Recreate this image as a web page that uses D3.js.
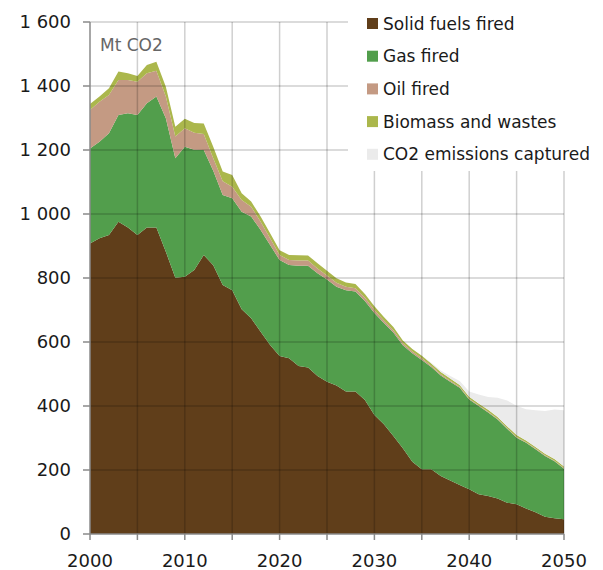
<!DOCTYPE html>
<html><head><meta charset="utf-8">
<script src="https://cdn.jsdelivr.net/npm/d3@7"></script>
<style>body{margin:0;background:#fff}svg{display:block}text{font-family:"DejaVu Sans",sans-serif}</style>
</head><body><svg id="c" width="603" height="570"></svg>
<script>
const years = d3.range(2000, 2051);
const solid = [908,924,934,976,958,934,958,958,882,801,804,825,872,840,778,762,702,674,632,591,556,549,525,520,494,476,464,445,445,419,372,343,306,268,226,202,202,181,167,153,140,124,119,111,98,93,80,68,54,49,46];
const gas = [297,302,318,333,357,375,388,409,417,373,406,376,328,295,281,287,305,318,318,312,300,292,313,318,321,319,309,317,313,309,319,316,324,322,339,342,320,314,309,304,280,276,261,247,231,208,205,197,190,178,158];
const oil = [120,125,120,110,104,104,94,81,68,68,58,53,50,39,43,36,37,31,26,21,16,15,17,17,15,13,12,11,10,10,9,8,7,6,5,5,4,4,3,3,3,2,2,2,2,2,2,2,2,2,2];
const biomass = [19,16,21,26,21,18,26,28,31,31,30,30,33,36,31,37,21,16,16,16,15,16,16,15,16,15,14,13,13,12,12,11,10,9,8,8,7,7,7,6,6,6,6,6,6,6,5,5,5,5,5];
const captured = [0,0,0,0,0,0,0,0,0,0,0,0,0,0,0,0,0,0,0,0,0,0,0,0,0,0,0,0,0,0,0,0,0,0,0,0,2,5,8,12,16,28,40,60,80,92,98,115,133,155,176];
const seriesNames = ["Solid fuels fired","Gas fired","Oil fired","Biomass and wastes","CO2 emissions captured"];
const colors = ["#603e1a","#529e4c","#c49a83","#abb74c","#ebebeb"];
const yTicks = [0,200,400,600,800,1000,1200,1400,1600];
const xTicks = [2000,2010,2020,2030,2040,2050];
const xGrid = d3.range(2000, 2051, 5);
const unitLabel = "Mt CO2";

const rows = years.map((y,i)=>({year:y, s0:solid[i], s1:gas[i], s2:oil[i], s3:biomass[i], s4:captured[i]}));
const keys = ["s0","s1","s2","s3","s4"];
const stacked = d3.stack().keys(keys)(rows);

const svg = d3.select("#c");
const x = d3.scaleLinear().domain([2000,2050]).range([90,564]);
const y = d3.scaleLinear().domain([0,1600]).range([534,22]);

const area = d3.area().x(d=>x(d.data.year)).y0(d=>y(d[0])).y1(d=>y(d[1]));
// draw captured first (bottom layer visually it's on top of stack, fine either way)
svg.append("g").selectAll("path").data(stacked).join("path")
  .attr("d", area).attr("fill",(d,i)=>colors[i]);

// grid on top, semi-transparent
const g = svg.append("g").attr("stroke","rgba(0,0,0,0.19)").attr("stroke-width",1.5);
g.selectAll("line.h").data(yTicks.slice(1)).join("line")
  .attr("x1",90).attr("x2",564).attr("y1",d=>y(d)).attr("y2",d=>y(d));
g.selectAll("line.v").data(xGrid.slice(1)).join("line")
  .attr("y1",22).attr("y2",534).attr("x1",d=>x(d)).attr("x2",d=>x(d));

// legend box covering grid
svg.append("rect").attr("x",348).attr("y",0).attr("width",255).attr("height",171).attr("fill","#fff");

// axes
const axisColor = "#8a8a8a";
svg.append("line").attr("x1",x(2000)).attr("x2",x(2000)).attr("y1",y(1600)).attr("y2",y(0)).attr("stroke",axisColor).attr("stroke-width",1.5);
svg.append("line").attr("x1",x(2000)).attr("x2",x(2050)).attr("y1",y(0)).attr("y2",y(0)).attr("stroke",axisColor).attr("stroke-width",1.5);
svg.append("g").selectAll("line").data(yTicks).join("line")
  .attr("x1",83).attr("x2",90).attr("y1",d=>y(d)).attr("y2",d=>y(d)).attr("stroke",axisColor).attr("stroke-width",1.5);
svg.append("g").selectAll("line").data(xGrid).join("line")
  .attr("x1",d=>x(d)).attr("x2",d=>x(d)).attr("y1",534).attr("y2",540).attr("stroke",axisColor).attr("stroke-width",1.5);

const fmt = v => d3.format(",")(v).replace(/,/g," ");
svg.append("g").selectAll("text").data(yTicks).join("text")
  .attr("x",71).attr("y",d=>y(d)).attr("dy","0.36em").attr("text-anchor","end")
  .attr("font-size",18).attr("fill","#1a1a1a").text(fmt);
svg.append("g").selectAll("text").data(xTicks).join("text")
  .attr("x",d=>x(d)).attr("y",567).attr("text-anchor","middle")
  .attr("font-size",18).attr("fill","#1a1a1a").text(d=>d);

svg.append("text").attr("x",100).attr("y",51).attr("font-size",17).attr("fill","#666").text(unitLabel);

// legend
const lg = svg.append("g").selectAll("g").data(seriesNames).join("g")
  .attr("transform",(d,i)=>`translate(367,${23.5+i*32.7})`);
lg.append("rect").attr("x",0).attr("y",-5.5).attr("width",11).attr("height",11).attr("fill",(d,i)=>colors[i]);
lg.append("text").attr("x",16).attr("dy","0.36em").attr("font-size",17).attr("fill","#1a1a1a").text(d=>d);
</script></body></html>
